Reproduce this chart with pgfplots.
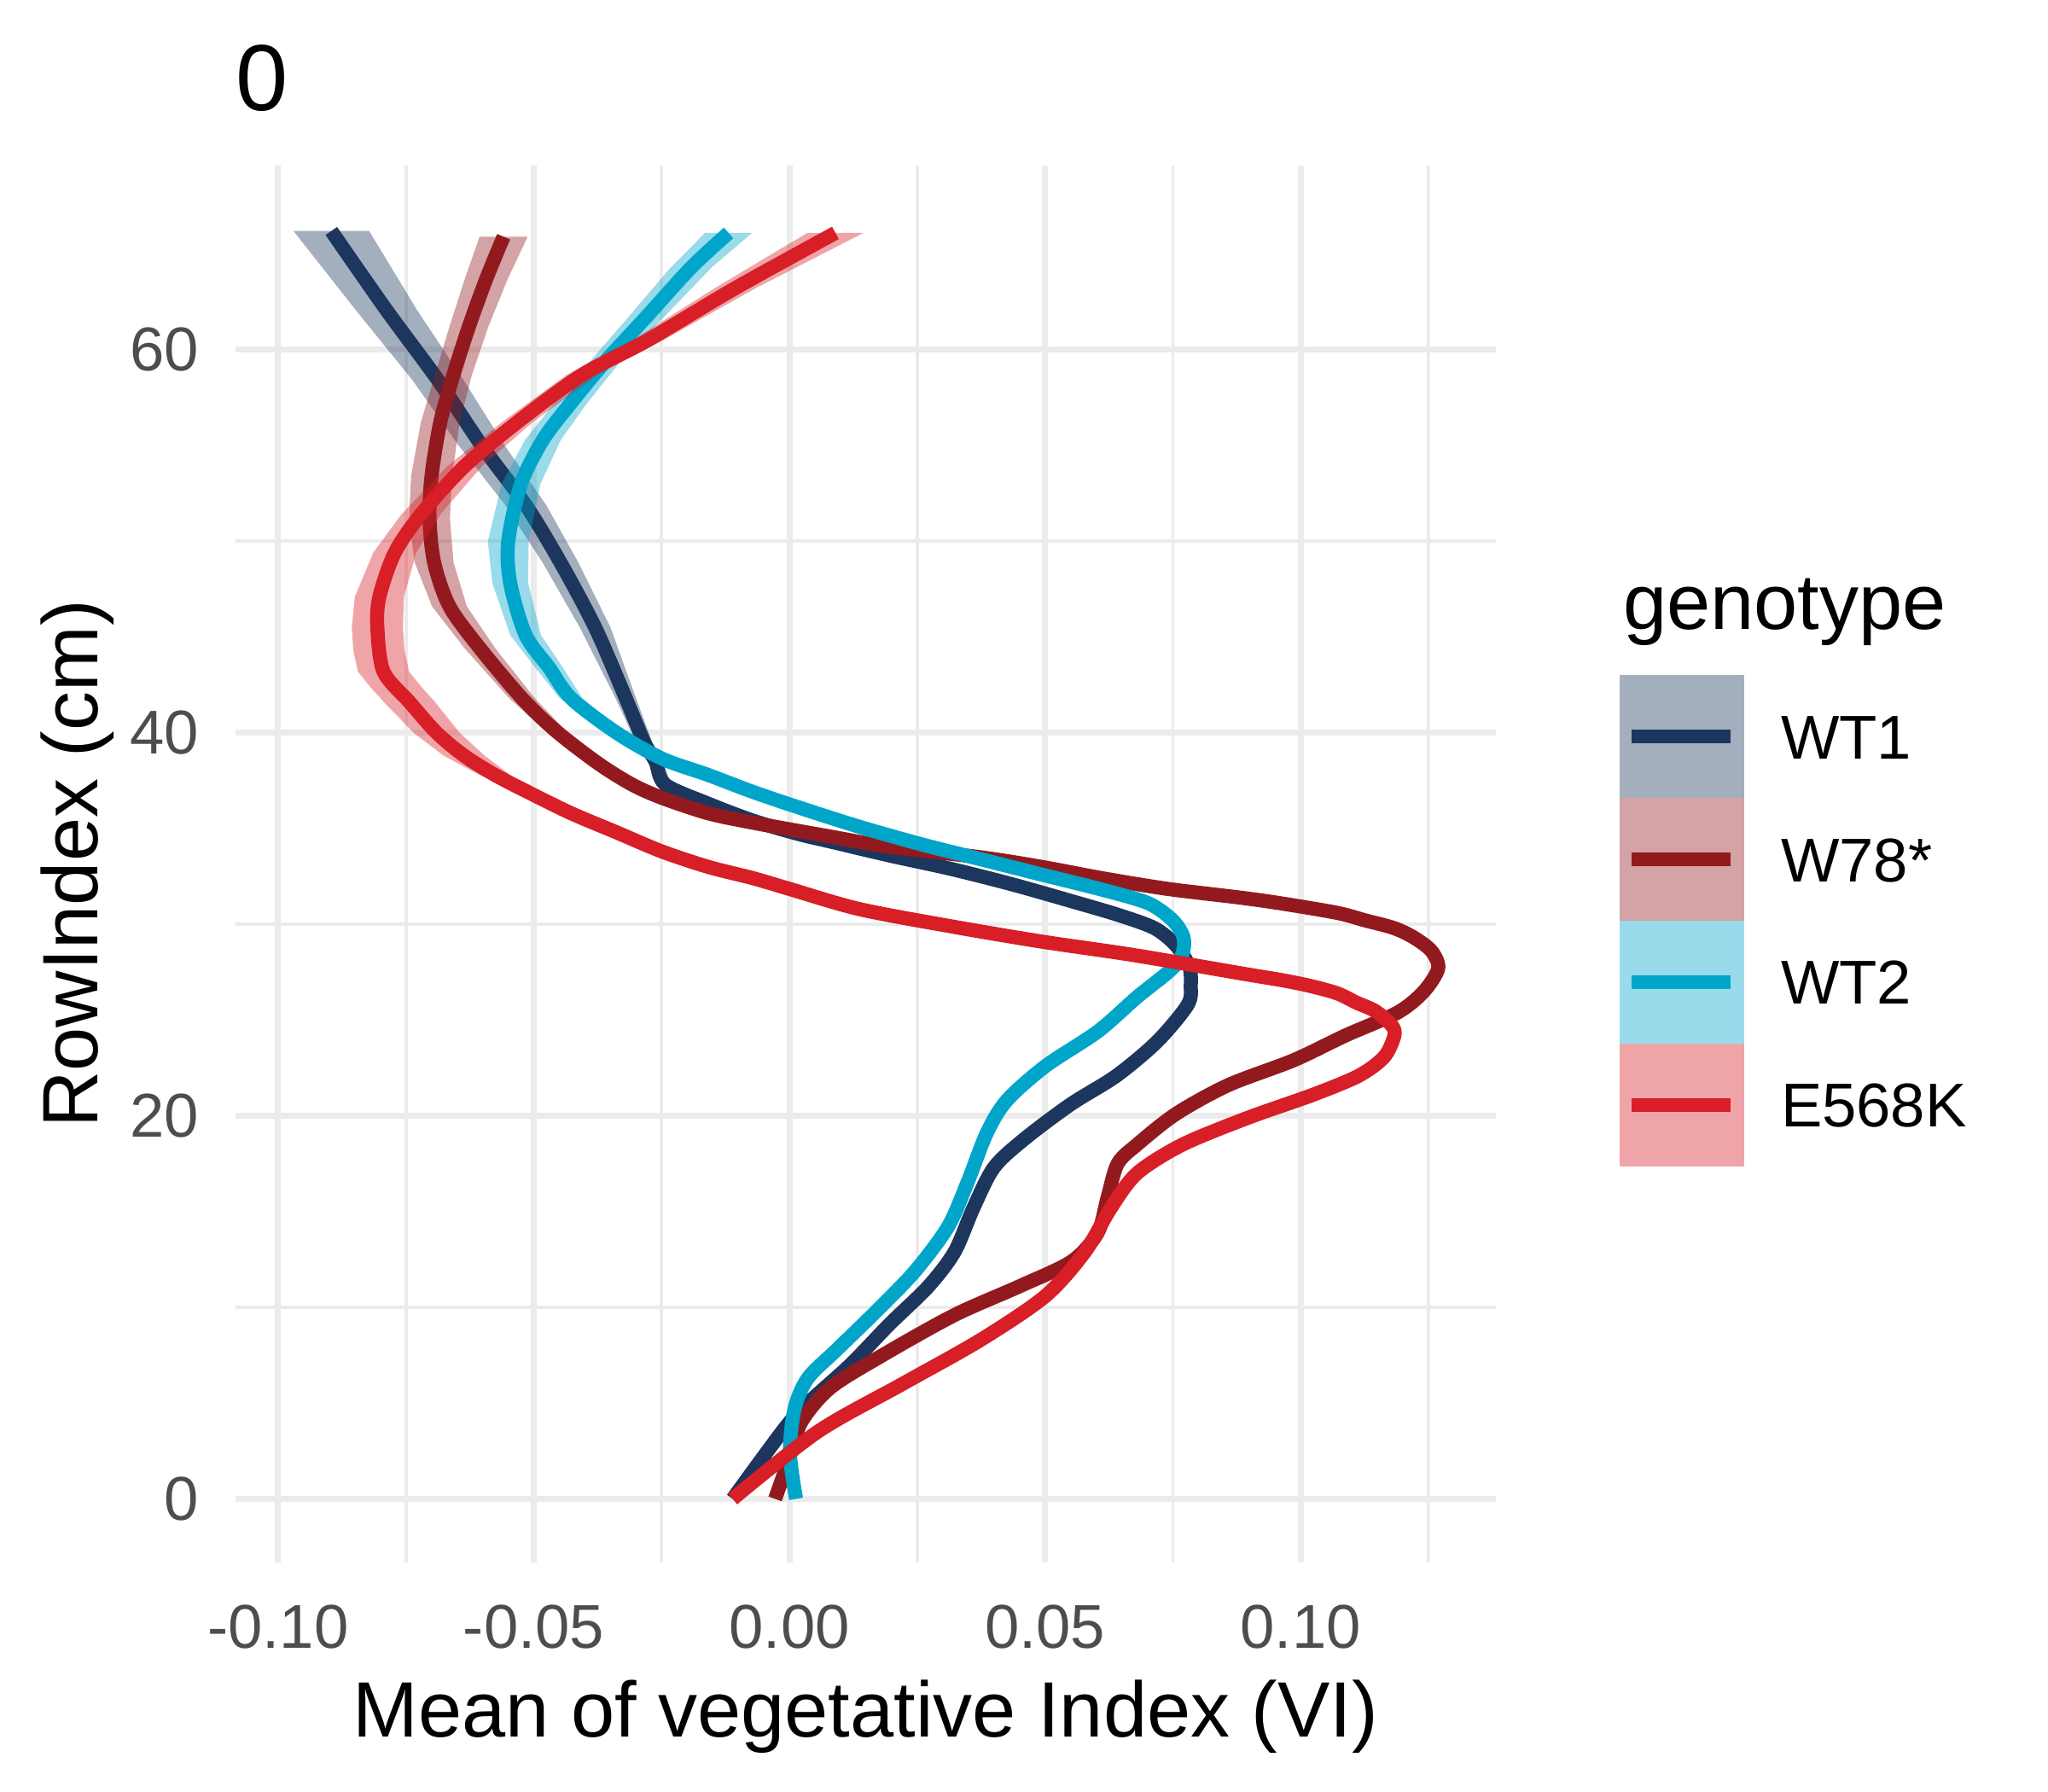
\documentclass[border=0pt]{standalone}
\usepackage{pgfplots}
\pgfplotsset{compat=1.18}
\usepackage{pgfplotstable}
\usepackage{fontspec}
\setmainfont{Liberation Sans}
\definecolor{cWTone}{RGB}{28,54,93}
\definecolor{cW78}{RGB}{146,26,31}
\definecolor{cWTtwo}{RGB}{0,165,202}
\definecolor{cE568K}{RGB}{216,30,38}
\definecolor{gridc}{RGB}{235,235,235}
\definecolor{tickc}{RGB}{77,77,77}

% ---- mean curves ----
\pgfplotstableread{
x y
-0.0111 0.0
-0.0009 3.7
0.0036 5.0
0.0119 7.0
0.0195 9.1
0.0272 11.1
0.0323 12.9
0.0360 15.2
0.0400 17.3
0.0460 18.8
0.0550 20.6
0.0640 22.1
0.0720 23.9
0.0779 25.8
0.0785 26.8
0.0782 27.8
0.0756 28.9
0.0714 29.8
0.0642 30.5
0.0553 31.2
0.0434 32.1
0.0315 32.9
0.0195 33.6
0.0076 34.35
0.0020 34.7
-0.0070 35.4
-0.0159 36.3
-0.0243 37.3
-0.0262 38.5
-0.0284 39.5
-0.0320 41.8
-0.0380 45.5
-0.0448 48.9
-0.0516 51.9
-0.0602 55.0
-0.0687 58.4
-0.0789 62.1
-0.0896 66.2
}\wtone

\pgfplotstableread{
x y
-0.0028 0.0
-0.0003 1.9
0.0023 4.0
0.0080 5.8
0.0182 7.5
0.0323 9.6
0.0450 11.1
0.0552 12.4
0.0603 13.9
0.0622 15.7
0.0642 17.5
0.0680 18.5
0.0756 20.1
0.0858 21.6
0.0986 22.9
0.1088 24.2
0.1190 25.4
0.1241 26.5
0.1269 27.7
0.1256 28.6
0.1222 29.3
0.1183 29.8
0.1127 30.2
0.1071 30.6
0.0960 31.1
0.0880 31.4
0.0740 31.85
0.0613 32.4
0.0493 33.0
0.0374 33.5
0.0195 34.05
0.0076 34.6
-0.0070 35.3
-0.0159 35.8
-0.0249 36.6
-0.0308 37.3
-0.0374 38.4
-0.0457 40.1
-0.0523 41.8
-0.0605 44.4
-0.0665 46.6
-0.0695 48.9
-0.0704 51.2
-0.0700 53.4
-0.0683 56.2
-0.0657 58.7
-0.0627 61.2
-0.0593 63.7
-0.0559 65.9
}\wseventyeight

\pgfplotstableread{
x y
0.0013 0.0
0.0001 2.4
0.0010 4.7
0.0036 6.3
0.0093 7.8
0.0170 9.8
0.0246 11.9
0.0310 14.2
0.0348 16.5
0.0386 19.1
0.0425 20.8
0.0501 22.6
0.0603 24.4
0.0680 26.2
0.0745 27.6
0.0768 28.4
0.0771 29.3
0.0750 30.2
0.0702 31.1
0.0613 31.8
0.0493 32.6
0.0374 33.4
0.0255 34.2
0.0136 35.1
0.0030 36.0
-0.0070 36.9
-0.0159 37.8
-0.0249 38.65
-0.0338 40.0
-0.0427 41.8
-0.0470 43.4
-0.0516 45.1
-0.0546 47.8
-0.0550 50.0
-0.0525 53.0
-0.0482 55.3
-0.0431 57.1
-0.0363 59.3
-0.0277 61.8
-0.0192 64.3
-0.0119 66.1
}\wttwo

\pgfplotstableread{
x y
-0.0111 0.0
0.0055 3.5
0.0221 6.0
0.0374 8.3
0.0501 10.6
0.0578 12.9
0.0629 15.2
0.0680 17.0
0.0769 18.5
0.0897 19.9
0.1024 21.1
0.1114 22.1
0.1164 23.1
0.1184 24.3
0.1172 24.9
0.1144 25.5
0.1110 25.9
0.1071 26.4
0.1016 26.8
0.0960 27.1
0.0892 27.4
0.0672 28.4
0.0493 29.1
0.0315 29.9
0.0136 30.8
0.0000 31.85
-0.0070 32.4
-0.0159 33.0
-0.0249 33.8
-0.0338 34.8
-0.0427 35.8
-0.0511 36.9
-0.0576 37.8
-0.0636 38.8
-0.0690 40.0
-0.0743 41.6
-0.0794 43.2
-0.0806 45.5
-0.0802 47.1
-0.0772 49.4
-0.0721 51.4
-0.0636 53.9
-0.0533 56.2
-0.0405 58.7
-0.0277 60.5
-0.0107 63.2
0.0090 66.1
}\esixeight

% ---- confidence ribbons (lower edge upward, upper edge downward) ----
\pgfplotstableread{
x y
0.0010 34.7
-0.0080 35.4
-0.0170 36.3
-0.0255 37.3
-0.0276 38.5
-0.0300 39.5
-0.0340 41.8
-0.0410 45.5
-0.0483 48.9
-0.0556 51.9
-0.0647 55.0
-0.0737 58.4
-0.0849 62.1
-0.0970 66.2
-0.0822 66.2
-0.0729 62.1
-0.0637 58.4
-0.0557 55.0
-0.0476 51.9
-0.0413 48.9
-0.0350 45.5
-0.0300 41.8
-0.0268 39.5
-0.0248 38.5
-0.0231 37.3
-0.0148 36.3
-0.0060 35.4
0.0030 34.7
}\rwtone

\pgfplotstableread{
x y
0.0066 34.6
-0.0080 35.3
-0.0169 35.8
-0.0260 36.6
-0.0321 37.3
-0.0390 38.4
-0.0477 40.1
-0.0548 41.8
-0.0635 44.4
-0.0699 46.6
-0.0733 48.9
-0.0744 51.2
-0.0740 53.4
-0.0721 56.2
-0.0693 58.7
-0.0665 61.2
-0.0635 63.7
-0.0606 65.9
-0.0512 65.9
-0.0551 63.7
-0.0589 61.2
-0.0621 58.7
-0.0645 56.2
-0.0660 53.4
-0.0664 51.2
-0.0657 48.9
-0.0631 46.6
-0.0575 44.4
-0.0498 41.8
-0.0437 40.1
-0.0358 38.4
-0.0295 37.3
-0.0238 36.6
-0.0149 35.8
-0.0060 35.3
0.0086 34.6
}\rwseventyeight

\pgfplotstableread{
x y
0.0126 35.1
0.0020 36.0
-0.0081 36.9
-0.0171 37.8
-0.0263 38.65
-0.0355 40.0
-0.0449 41.8
-0.0497 43.4
-0.0546 45.1
-0.0581 47.8
-0.0590 50.0
-0.0563 53.0
-0.0517 55.3
-0.0463 57.1
-0.0393 59.3
-0.0312 61.8
-0.0232 64.3
-0.0165 66.1
-0.0073 66.1
-0.0152 64.3
-0.0242 61.8
-0.0333 59.3
-0.0399 57.1
-0.0447 55.3
-0.0487 53.0
-0.0510 50.0
-0.0511 47.8
-0.0486 45.1
-0.0443 43.4
-0.0405 41.8
-0.0321 40.0
-0.0235 38.65
-0.0147 37.8
-0.0059 36.9
0.0040 36.0
0.0146 35.1
}\rwttwo

\pgfplotstableread{
x y
-0.0169 33.0
-0.0259 33.8
-0.0349 34.8
-0.0440 35.8
-0.0531 36.9
-0.0606 37.8
-0.0676 38.8
-0.0735 40.0
-0.0793 41.6
-0.0820 42.4
-0.0844 43.2
-0.0853 44.3
-0.0856 45.5
-0.0850 47.1
-0.0814 49.4
-0.0759 51.4
-0.0670 53.9
-0.0563 56.2
-0.0435 58.7
-0.0307 60.5
-0.0147 63.2
0.0035 66.1
0.0145 66.1
-0.0067 63.2
-0.0247 60.5
-0.0375 58.7
-0.0503 56.2
-0.0602 53.9
-0.0683 51.4
-0.0730 49.4
-0.0754 47.1
-0.0756 45.5
-0.0753 44.3
-0.0744 43.2
-0.0720 42.4
-0.0693 41.6
-0.0645 40.0
-0.0596 38.8
-0.0546 37.8
-0.0491 36.9
-0.0414 35.8
-0.0327 34.8
-0.0239 33.8
-0.0149 33.0
}\resixeight

\begin{document}
\begin{tikzpicture}
\useasboundingbox (0,0) rectangle (480pt,420pt);
\begin{axis}[
  at={(55.25pt,53.88pt)}, anchor=south west,
  scale only axis, width=295.25pt, height=327.24pt,
  xmin=-0.1083, xmax=0.1381, ymin=-3.3, ymax=69.6,
  axis line style={draw=none},
  tick style={draw=none}, major tick length=0pt, minor tick length=0pt,
  xtick={-0.1,-0.05,0,0.05,0.1},
  xticklabels={-0.10,-0.05,0.00,0.05,0.10},
  minor xtick={-0.075,-0.025,0.025,0.075,0.125},
  ytick={0,20,40,60},
  yticklabels={0,20,40,60},
  minor ytick={10,30,50},
  scaled x ticks=false, scaled y ticks=false,
  xmajorgrids, ymajorgrids, xminorgrids, yminorgrids,
  major grid style={draw=gridc, line width=1.4pt},
  minor grid style={draw=gridc, line width=0.75pt},
  /pgf/number format/assume math mode=true,
  ticklabel style={font=\fontsize{14.5}{17}\selectfont, text=tickc, inner sep=0pt},
  xticklabel style={anchor=north, yshift=-9.8pt},
  yticklabel style={anchor=east, xshift=-8.4pt},
  xlabel={Mean of vegetative Index (VI)},
  xlabel style={at={(rel axis cs:0.5,0)}, anchor=base, yshift=-41.0pt, inner sep=0pt, font=\fontsize{18.4}{21}\selectfont},
  ylabel={RowIndex (cm)},
  ylabel style={at={(rel axis cs:0,0.5)}, anchor=base, yshift=32.3pt, inner sep=0pt, font=\fontsize{18.4}{21}\selectfont},
  line join=round,
]
% WT1
\addplot[fill=cWTone, fill opacity=0.4, draw=none, forget plot] table[x=x, y=y] \rwtone;
\addplot[cWTone, line width=3.3pt, no marks, smooth] table[x=x, y=y] \wtone;
% W78*
\addplot[fill=cW78, fill opacity=0.4, draw=none, forget plot] table[x=x, y=y] \rwseventyeight;
\addplot[cW78, line width=3.3pt, no marks, smooth] table[x=x, y=y] \wseventyeight;
% WT2
\addplot[fill=cWTtwo, fill opacity=0.4, draw=none, forget plot] table[x=x, y=y] \rwttwo;
\addplot[cWTtwo, line width=3.3pt, no marks, smooth] table[x=x, y=y] \wttwo;
% E568K
\addplot[fill=cE568K, fill opacity=0.4, draw=none, forget plot] table[x=x, y=y] \resixeight;
\addplot[cE568K, line width=3.3pt, no marks, smooth] table[x=x, y=y] \esixeight;
\end{axis}
% title
\node[anchor=base west, inner sep=0pt, font=\fontsize{22.0}{26}\selectfont] at (55.1pt,394.0pt) {0};
% legend
\node[anchor=base west, inner sep=0pt, font=\fontsize{18.4}{21}\selectfont] at (380.2pt,272.45pt) {genotype};
\fill[cWTone, opacity=0.4] (379.6pt,232.96pt) rectangle (408.7pt,261.73pt);
\fill[cW78, opacity=0.4] (379.6pt,204.18pt) rectangle (408.7pt,232.96pt);
\fill[cWTtwo, opacity=0.4] (379.6pt,175.41pt) rectangle (408.7pt,204.18pt);
\fill[cE568K, opacity=0.4] (379.6pt,146.63pt) rectangle (408.7pt,175.41pt);
\draw[cWTone, line width=3.3pt] (382.3pt,247.35pt) -- (405.6pt,247.35pt);
\draw[cW78, line width=3.3pt] (382.3pt,218.57pt) -- (405.6pt,218.57pt);
\draw[cWTtwo, line width=3.3pt] (382.3pt,189.8pt) -- (405.6pt,189.8pt);
\draw[cE568K, line width=3.3pt] (382.3pt,161.02pt) -- (405.6pt,161.02pt);
\begin{scope}[every node/.style={anchor=base west, inner sep=0pt, font=\fontsize{14.5}{17}\selectfont}]
\node at (417.2pt,242.15pt) {WT1};
\node at (417.2pt,213.37pt) {W78*};
\node at (417.2pt,184.6pt) {WT2};
\node at (417.2pt,155.82pt) {E568K};
\end{scope}
\end{tikzpicture}
\end{document}
